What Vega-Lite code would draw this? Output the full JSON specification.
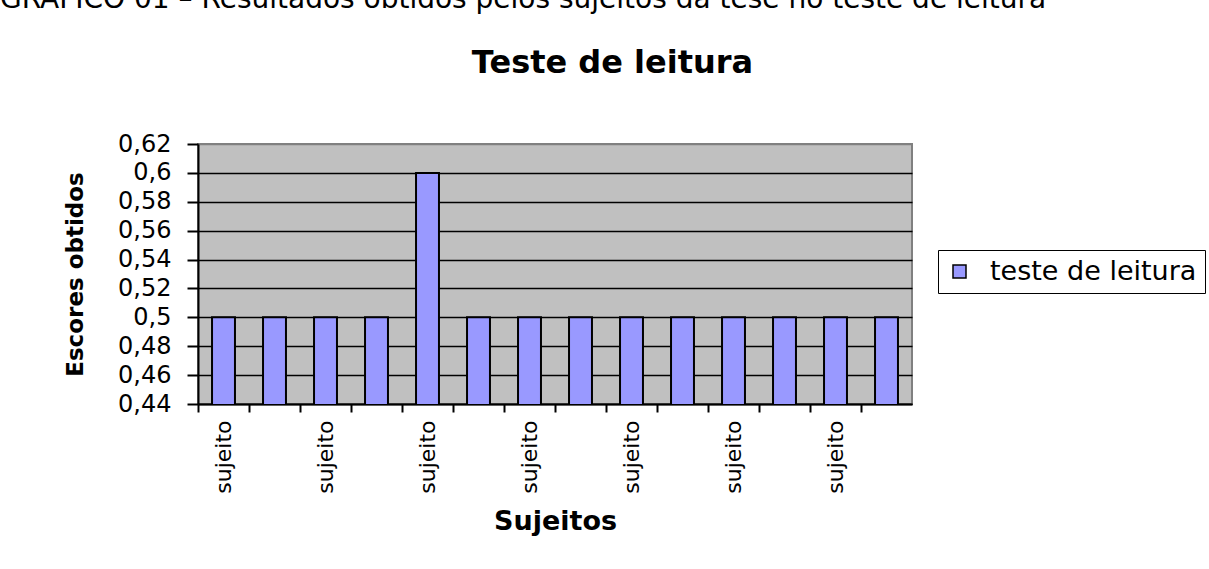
{
  "$schema": "https://vega.github.io/schema/vega-lite/v6.json",
  "autosize": "none",
  "width": 714,
  "height": 260,
  "padding": {"left": 198, "top": 144, "right": 297, "bottom": 165},
  "background": "white",
  "title": {
    "text": "GRÁFICO 01 – Resultados obtidos pelos sujeitos da tese no teste de leitura",
    "anchor": "start",
    "frame": "group",
    "dx": -198,
    "offset": 10,
    "baseline": "alphabetic",
    "font": "DejaVu Sans",
    "fontSize": 28,
    "fontWeight": "normal",
    "color": "black"
  },
  "config": {
    "view": {"fill": "#C0C0C0", "stroke": "#808080", "strokeWidth": 2}
  },
  "data": {
    "values": [
      {"sujeito": "sujeito 1", "escore": 0.5},
      {"sujeito": "sujeito 2", "escore": 0.5},
      {"sujeito": "sujeito 3", "escore": 0.5},
      {"sujeito": "sujeito 4", "escore": 0.5},
      {"sujeito": "sujeito 5", "escore": 0.6},
      {"sujeito": "sujeito 6", "escore": 0.5},
      {"sujeito": "sujeito 7", "escore": 0.5},
      {"sujeito": "sujeito 8", "escore": 0.5},
      {"sujeito": "sujeito 9", "escore": 0.5},
      {"sujeito": "sujeito 10", "escore": 0.5},
      {"sujeito": "sujeito 11", "escore": 0.5},
      {"sujeito": "sujeito 12", "escore": 0.5},
      {"sujeito": "sujeito 13", "escore": 0.5},
      {"sujeito": "sujeito 14", "escore": 0.5}
    ]
  },
  "layer": [
    {
      "mark": {"type": "bar", "stroke": "black", "strokeWidth": 2, "clip": true},
      "encoding": {
        "x": {
          "field": "sujeito",
          "type": "nominal",
          "sort": null,
          "scale": {"paddingInner": 0.55, "paddingOuter": 0.275},
          "axis": {
            "orient": "bottom",
            "title": "Sujeitos",
            "bandPosition": -0.611,
            "labelAngle": 270,
            "labelAlign": "right",
            "labelBaseline": "middle",
            "labelExpr": "toNumber(slice(datum.value, 8)) % 2 == 1 ? 'sujeito' : ''",
            "labelFont": "DejaVu Sans",
            "labelFontSize": 22,
            "labelColor": "black",
            "labelPadding": 8,
            "labelOverlap": false,
            "tickSize": 8,
            "tickWidth": 2,
            "tickColor": "black",
            "domainColor": "black",
            "domainWidth": 2,
            "grid": false,
            "titleFont": "DejaVu Sans",
            "titleFontSize": 27,
            "titleFontWeight": "bold",
            "titleColor": "black",
            "titlePadding": 15
          }
        },
        "y": {
          "field": "escore",
          "type": "quantitative",
          "scale": {"domain": [0.44, 0.62], "zero": false, "nice": false},
          "axis": {
            "values": [0.44, 0.46, 0.48, 0.5, 0.52, 0.54, 0.56, 0.58, 0.6, 0.62],
            "labelExpr": "replace(format(datum.value, '.2~f'), '.', ',')",
            "labelFont": "DejaVu Sans",
            "labelFontSize": 24,
            "labelColor": "black",
            "labelFlush": false,
            "labelOverlap": false,
            "labelPadding": 16,
            "tickSize": 11,
            "tickWidth": 2,
            "tickColor": "black",
            "domainColor": "black",
            "domainWidth": 2,
            "grid": true,
            "gridColor": {"condition": {"test": "datum.value > 0.615", "value": "#808080"}, "value": "black"},
            "gridWidth": 1.5,
            "gridOpacity": 1,
            "title": "Escores obtidos",
            "titleFont": "DejaVu Sans",
            "titleFontSize": 23,
            "titleFontWeight": "bold",
            "titleColor": "black",
            "titlePadding": 30
          }
        },
        "color": {
          "datum": "teste de leitura",
          "scale": {"range": ["#9999FF"]},
          "legend": {
            "orient": "none",
            "legendX": 740,
            "legendY": 106,
            "title": null,
            "strokeColor": "black",
            "padding": 8,
            "symbolType": "square",
            "symbolSize": 169,
            "symbolStrokeColor": "black",
            "symbolStrokeWidth": 1.5,
            "labelFont": "DejaVu Sans",
            "labelFontSize": 27,
            "labelColor": "black",
            "labelOffset": 17,
            "labelLimit": 400
          }
        }
      }
    },
    {
      "mark": {"type": "rule", "opacity": 0},
      "encoding": {
        "x": {
          "field": "sujeito",
          "type": "nominal",
          "sort": null,
          "axis": {
            "orient": "top",
            "title": "Teste de leitura",
            "titleFont": "DejaVu Sans",
            "titleFontSize": 32,
            "titleFontWeight": "bold",
            "titleColor": "black",
            "titleX": 414,
            "titleY": -72,
            "titleAlign": "center",
            "titleBaseline": "alphabetic",
            "titleAngle": 0,
            "labels": false,
            "ticks": false,
            "domain": false,
            "grid": false
          }
        }
      }
    }
  ],
  "resolve": {"axis": {"x": "independent"}}
}
